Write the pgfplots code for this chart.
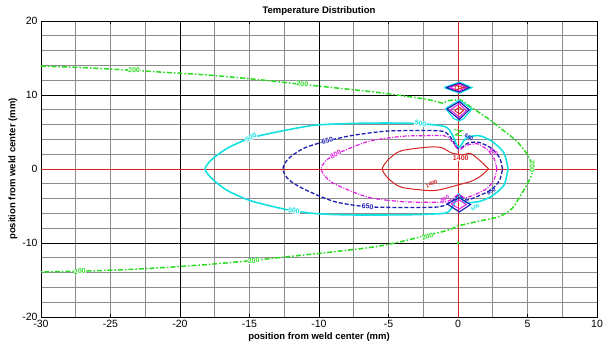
\documentclass[border=0pt]{standalone}
\usepackage{fontspec}
\setmainfont{Liberation Sans}
\usepackage{pgfplots}
\pgfplotsset{compat=1.18}
\usetikzlibrary{calc}
\definecolor{cgreen}{RGB}{40,220,30}
\definecolor{ccyan}{RGB}{20,225,225}
\definecolor{cblue}{RGB}{30,30,180}
\definecolor{cmag}{RGB}{225,30,225}
\definecolor{cred}{RGB}{215,35,35}
\definecolor{cgrid}{RGB}{140,140,140}
\tikzset{clab/.style={font=\fontsize{7}{7}\selectfont\bfseries, fill=white, inner sep=0.2pt},
         slab/.style={font=\fontsize{5.5}{6}\selectfont\bfseries, inner sep=0.1pt}}
\begin{document}
\begin{tikzpicture}
\begin{axis}[
  scale only axis, width=556pt, height=296pt,
  xmin=-30, xmax=10, ymin=-20, ymax=20,
  xtick={-30,-25,-20,-15,-10,-5,0,5,10},
  xticklabels={-30,-25,-20,-15,-10,-5,0,5,10},
  ytick={-20,-10,0,10,20},
  yticklabels={-20,-10,0,10,20},
  minor xtick={-27.5,-25,-22.5,-20,-17.5,-15,-12.5,-10,-7.5,-5,-2.5,0,2.5,5,7.5},
  minor ytick={-18,-16,-14,-12,-10,-8,-6,-4,-2,0,2,4,6,8,10,12,14,16,18},
  xminorgrids, yminorgrids,
  minor grid style={cgrid, line width=0.7pt},
  minor tick length=0pt,
  major tick length=3pt,
  tick align=inside,
  tick style={black},
  extra x ticks={-20,-10}, extra x tick labels={},
  extra x tick style={grid=major, major grid style={black, line width=0.9pt}},
  extra y ticks={-10,10}, extra y tick labels={},
  extra y tick style={grid=major, major grid style={black, line width=0.9pt}},
  axis line style={black, line width=0.9pt},
  tick label style={font=\fontsize{10.5}{11}\selectfont},
  title={Temperature Distribution},
  title style={font=\bfseries\fontsize{9.5}{10}\selectfont, yshift=-4pt},
  xlabel={position from weld center (mm)},
  ylabel={position from weld center (mm)},
  label style={font=\bfseries\fontsize{9.5}{10}\selectfont},
  xlabel style={yshift=2pt},
  ylabel style={yshift=-2pt},
  clip=false,
]
% axes through the weld centre
\addplot[cred, line width=0.8pt] coordinates {(0,-20) (0,20)};
\addplot[cred, line width=0.8pt] coordinates {(-30,0) (10,0)};

% 200 contour (green dash-dot)
\addplot[cgreen, line width=1.5pt, smooth, tension=0.5,
  dash pattern=on 5pt off 2pt on 1.5pt off 2pt] coordinates {
(-30,13.9) (-27,13.7) (-24,13.4) (-21,13.05) (-18,12.7) (-15,12.2) (-12,11.6)
(-9,11.0) (-6,10.4) (-4,9.9) (-2.2,9.4) (-1.1,8.9) (-0.8,9.2) (0.2,9.3)
(0.9,8.4) (2.1,6.9) (3.2,5.3) (4.2,3.8) (4.9,2.2) (5.3,0.8) (5.35,0)
(5.3,-0.8) (4.9,-2.3) (4.4,-3.9) (3.9,-5.3) (3.0,-6.4) (1.4,-7.1) (0.0,-7.7)
(-0.6,-8.2) (-2.5,-9.1) (-5.6,-10.4) (-9,-11.2) (-12,-11.8) (-15,-12.4)
(-18,-12.9) (-21,-13.3) (-24,-13.6) (-27,-13.8) (-30,-13.9)};

% 500 contour (cyan solid)
\addplot[ccyan, line width=1.6pt, smooth, tension=0.45] coordinates {
(3.6,0) (3.3,2.2) (2.4,3.8) (1.5,4.5) (0.6,4.2) (0.05,2.9) (-0.4,4.6) (-0.9,5.7)
(-2.5,6.1) (-4.1,6.2) (-6.5,6.2) (-8.5,6.1) (-10.4,5.9) (-12.5,5.2) (-14.9,4.2)
(-16.6,2.8) (-17.7,1.3) (-18.2,0) (-17.7,-1.3) (-16.6,-2.9) (-14.9,-4.3)
(-12.3,-5.5) (-10.4,-6.0) (-8,-6.2) (-4.1,-6.2) (-2,-6.1) (-0.8,-5.9) (-0.3,-4.8)
(0.05,-3.4) (0.5,-4.5) (1.5,-4.4) (2.4,-3.7) (3.3,-2.2) (3.6,0)};

% 650 contour (blue dashed)
\addplot[cblue, line width=1.3pt, smooth, tension=0.45, dash pattern=on 4pt off 2pt] coordinates {
(3.2,0) (3.0,1.5) (2.4,2.8) (1.5,3.6) (0.7,3.5) (0.05,2.7) (-0.5,4.2) (-1.1,5.1)
(-3,5.2) (-5.3,5.1) (-7.7,4.5) (-9.6,3.7) (-11.1,2.8) (-12.2,1.4) (-12.6,0)
(-12.2,-1.4) (-11.1,-2.7) (-8.9,-4.4) (-6.5,-5.1) (-3.5,-5.2) (-1.3,-5.1)
(-0.4,-4.3) (0.05,-3.5) (0.6,-4.2) (1.4,-3.7) (2.4,-2.8) (3.0,-1.5) (3.2,0)};

% 800 contour (magenta dash-dot)
\addplot[cmag, line width=1.2pt, smooth, tension=0.45,
  dash pattern=on 4pt off 1.5pt on 1pt off 1.5pt] coordinates {
(2.8,0) (2.6,1.4) (2.1,2.6) (1.4,3.4) (0.6,3.2) (0.05,2.6) (-0.5,3.9) (-1.0,4.5)
(-2.5,4.5) (-4.1,4.4) (-6.5,3.7) (-8.9,1.9) (-9.6,0.9) (-9.85,0) (-9.6,-0.9)
(-8.9,-2.0) (-6.5,-3.8) (-4.1,-4.4) (-2,-4.5) (-0.8,-4.4) (-0.3,-3.9) (0.05,-3.4)
(0.5,-3.9) (1.3,-3.4) (2.1,-2.6) (2.6,-1.4) (2.8,0)};

% 1400 contour (red solid)
\addplot[cred, line width=1.0pt, smooth, tension=0.45] coordinates {
(2.2,0) (1.6,1.1) (0.9,2.1) (0.3,1.9) (-0.5,2.2) (-1.2,2.9) (-2.2,2.95) (-4.1,2.45)
(-5.0,1.3) (-5.45,0) (-5.0,-1.3) (-4.1,-2.45) (-2.2,-2.9) (-1.3,-2.8) (0.2,-2.05)
(0.9,-1.7) (1.6,-1.0) (2.2,0)};

% small closed contours near the weld line
\addplot[ccyan, line width=1.2pt] coordinates {(-1.0,11.0) (0.1,11.75) (1.0,11.0) (0.1,10.25) (-1.0,11.0)};
\addplot[cblue, line width=1.2pt] coordinates {(-0.85,11.0) (0.1,11.6) (0.8,11.0) (0.1,10.4) (-0.85,11.0)};
\addplot[cmag, line width=1.0pt] coordinates {(-0.6,11.0) (0.1,11.45) (0.6,11.0) (0.1,10.55) (-0.6,11.0)};
\addplot[cred, line width=0.9pt] coordinates {(-0.2,11.3) (0.45,11.0) (-0.2,10.7) (-0.2,11.3)};

\addplot[ccyan, line width=1.2pt] coordinates {(-0.9,8.2) (0.1,9.3) (1.0,8.1) (0.4,6.8) (0.1,6.5) (-0.3,6.8) (-0.9,8.2)};
\addplot[cblue, line width=1.2pt] coordinates {(-0.8,8.1) (0.1,9.1) (0.8,8.0) (0.1,6.7) (-0.8,8.1)};
\addplot[cmag, line width=1.0pt] coordinates {(-0.55,8.0) (0.1,8.8) (0.6,7.9) (0.1,7.0) (-0.55,8.0)};
\addplot[cred, line width=0.9pt] coordinates {(-0.25,7.9) (0.1,8.35) (0.4,7.9) (0.1,7.45) (-0.25,7.9)};

\addplot[cblue, line width=1.2pt] coordinates {(-0.8,-4.7) (0.1,-3.9) (0.9,-4.8) (0.1,-5.8) (-0.8,-4.7)};
\addplot[cmag, line width=1.0pt] coordinates {(-0.5,-4.7) (0.1,-4.2) (0.6,-4.8) (0.1,-5.4) (-0.5,-4.7)};

\addplot[cgreen, line width=0.9pt] coordinates {(-0.3,5.3) (0.3,5.2) (-0.2,4.6) (0.3,4.5)};
\addplot[cgreen, only marks, mark=*, mark size=1pt] coordinates {(0,-10)};

% contour labels
\node[clab, text=cgreen, rotate=-3] at (axis cs:-23.3,13.35) {200};
\node[clab, text=cgreen, rotate=-6] at (axis cs:-11.2,11.5) {200};
\node[clab, text=cgreen, rotate=-90] at (axis cs:5.35,0.3) {200};
\node[clab, text=cgreen, rotate=2] at (axis cs:-27.2,-13.85) {200};
\node[clab, text=cgreen, rotate=5] at (axis cs:-14.7,-12.4) {200};
\node[clab, text=cgreen, rotate=20] at (axis cs:-2.2,-9.15) {200};

\node[clab, text=ccyan, rotate=30] at (axis cs:-14.9,4.25) {500};
\node[clab, text=ccyan, rotate=-10] at (axis cs:-11.8,-5.65) {500};
\node[clab, text=ccyan, rotate=-12] at (axis cs:-2.7,6.15) {500};
\node[slab, text=ccyan, rotate=30] at (axis cs:1.25,-5.2) {500};

\node[clab, text=cblue, rotate=15] at (axis cs:-9.4,3.8) {650};
\node[clab, text=cblue, rotate=-5] at (axis cs:-6.5,-5.1) {650};
\node[slab, text=cblue, rotate=-30] at (axis cs:0.8,4.3) {650};
\node[slab, text=cblue, rotate=30] at (axis cs:2.4,-3.0) {650};

\node[clab, text=cmag, rotate=30] at (axis cs:-8.8,2.0) {800};
\node[slab, text=cmag, rotate=-30] at (axis cs:2.55,2.3) {800};
\node[slab, text=cmag, rotate=30] at (axis cs:-0.95,-4.05) {800};

\node[clab, text=cred] at (axis cs:0.2,1.5) {1400};
\node[slab, text=cred, rotate=25] at (axis cs:-1.9,-2.0) {1400};
\end{axis}
\pgfresetboundingbox
\path[use as bounding box] ($(current axis.south west)+(-41pt,-30pt)$) rectangle ($(current axis.north east)+(11pt,21pt)$);
\end{tikzpicture}
\end{document}
